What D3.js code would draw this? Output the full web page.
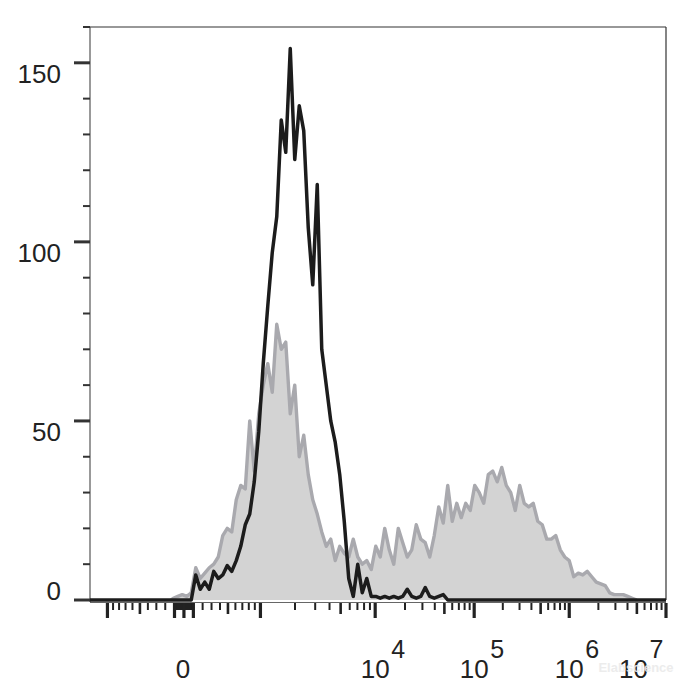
<!DOCTYPE html>
<html><head><meta charset="utf-8">
<script src="https://cdn.jsdelivr.net/npm/d3@7"></script>
<style>body{margin:0;background:#fff}svg{display:block}</style>
</head><body><svg id="c" width="700" height="700"></svg>
<script>
// ---- data ----
const binWidth = 8;          // channels per histogram bin (1024 display channels)
const channelCount = 1024;
const grayStartBin = 18;     // isotype / unstained control (filled grey)
const grayCounts = [0.5,1,1.5,1,2, 9,6,7.5,9,10, 12,18,20,19,28, 32,31,50,36,52,
  60,66,58,77,70, 72,52,60,40,46, 35,28,24,19,15, 17,11,15,13,12,
  17,12,10,11,8.5, 15,12,20,14,10, 20,16,12,14,21, 17,16,12,18,26,
  21.5,32,22,27,23, 27,25,32,30,27, 35,36,33,37,32, 30,25,32,27,26,
  27,22,21,17,17, 18,14,12,11,6.5, 7.5,7,8,6.5,5, 4.5,4,2,1.5,1.5,
  1.5,1,0.5,0];
const blackStartBin = 23;    // stained sample (black line)
const blackCounts = [7,3,5,3,8, 6,7,9.6,8,11, 15,21,24,33,47, 66,82,97,107,134,
  125,154,123,138,131, 104,88,116,70,60, 50,44,35,22,6, 1,10,2,6,1,
  1,0.5,1,0.5,1, 0.5,1,3,1,0.5, 1,3.5,1,0.5,1, 1.5,0];

const yMajorTicks = [0, 50, 100, 150];
const yMinorTicks = [10,20,30,40,60,70,80,90,110,120,130,140,160];
const xMajorTicks = [-1000, -100, 0, 100, 1000, 1e4, 1e5, 1e6, 1e7];
const xMediumTicks = [-500, 500, 5e3, 5e4, 5e5, 5e6];
const xLinearMinorSteps = [10,20,30,40,50,60,70,80,90,200,300,400,600,700,800,900];
const xLogMinorDecades = [1e3, 1e4, 1e5, 1e6];
const xLogMinorMultipliers = [2,3,4,6,7,8,9];
const xLabelValues = [0, 1e4, 1e5, 1e6, 1e7];
const xLabelBases = ["0", "10", "10", "10", "10"];
const xLabelExponents = ["", "4", "5", "6", "7"];
const watermark = "Elabscience";

// ---- layout ----
const L = 90, R = 666, T = 27, B = 600;
const svg = d3.select("#c");
svg.append("rect").attr("width",700).attr("height",700).attr("fill","#fff");

const x = d3.scaleLinear().domain([0, channelCount]).range([L, R]);
const y = d3.scaleLinear().domain([0, 160]).range([B, T]);

// biexponential display transform (value -> display units -> channel)
const linC = 700;
function tOf(v){
  const a = Math.abs(v), s = Math.sign(v);
  if (a <= 1000) return s * Math.asinh(a/linC) / Math.asinh(1000/linC);
  return s * (1 + Math.log10(a/1000));
}
const chOf = d3.scaleLinear().domain([-1,0,1,2,3,4,5]).range([31,167,303,507,683,852,1024]);
const xv = v => x(chOf(tOf(v)));

// ---- histograms ----
function series(start, counts){
  const n = channelCount / binWidth;
  const pts = [{c:0, n:0}];
  for (let i = 0; i < n; i++){
    const k = i - start;
    pts.push({c:(i+0.5)*binWidth, n:(k>=0 && k<counts.length) ? counts[k] : 0});
  }
  pts.push({c:channelCount, n:0});
  return pts;
}
const gray = grayCounts.map((n,k)=>({c:(grayStartBin+k+0.5)*binWidth, n}));
const grayPts = [{c:(grayStartBin)*binWidth, n:0}, ...gray];
svg.append("path").datum(grayPts)
  .attr("d", d3.area().x(d=>x(d.c)).y0(y(0)).y1(d=>y(d.n)))
  .attr("fill","#d3d3d3");
svg.append("path").datum(grayPts)
  .attr("d", d3.line().x(d=>x(d.c)).y(d=>y(d.n)))
  .attr("fill","none").attr("stroke","#a9a9ae").attr("stroke-width",3.4)
  .attr("stroke-linejoin","round");

// ---- frame ----
svg.append("line").attr("x1",L).attr("x2",R).attr("y1",T).attr("y2",T).attr("stroke","#333").attr("stroke-width",1.2);
svg.append("line").attr("x1",R).attr("x2",R).attr("y1",T).attr("y2",B).attr("stroke","#333").attr("stroke-width",1.2);
svg.append("line").attr("x1",L).attr("x2",L).attr("y1",T).attr("y2",B+2).attr("stroke","#555").attr("stroke-width",1.2);
svg.append("line").attr("x1",L).attr("x2",R).attr("y1",B+2.5).attr("y2",B+2.5).attr("stroke","#666").attr("stroke-width",1);

// black histogram line
svg.append("path").datum(series(blackStartBin, blackCounts))
  .attr("d", d3.line().x(d=>x(d.c)).y(d=>y(d.n)))
  .attr("fill","none").attr("stroke","#1c1c1c").attr("stroke-width",3.5)
  .attr("stroke-linejoin","round");

// ---- y axis ticks ----
const font = "Liberation Sans, Arial, sans-serif";
const ty = svg.append("g");
ty.selectAll(".ymin").data(yMinorTicks).join("line")
  .attr("x1",L-7).attr("x2",L).attr("y1",d=>y(d)).attr("y2",d=>y(d))
  .attr("stroke","#333").attr("stroke-width",2);
ty.selectAll(".ymaj").data(yMajorTicks).join("line")
  .attr("x1",L-16).attr("x2",L).attr("y1",d=>y(d)).attr("y2",d=>y(d))
  .attr("stroke","#333").attr("stroke-width",3);
ty.selectAll("text").data(yMajorTicks).join("text")
  .attr("x",61).attr("y",d=>y(d) + (d===0 ? 0 : 20))
  .attr("text-anchor","end")
  .attr("font-family",font).attr("font-size",26)
  .attr("fill","#222").text(d=>d);

// ---- x axis ticks ----
const minorVals = [];
xLinearMinorSteps.forEach(s=>{ minorVals.push(-s, s); });
xLogMinorDecades.forEach(d=>xLogMinorMultipliers.forEach(m=>minorVals.push(m*d)));
const tx = svg.append("g");
const y0t = B + 3;
tx.selectAll(".xmin").data(minorVals).join("line")
  .attr("x1",d=>xv(d)).attr("x2",d=>xv(d)).attr("y1",y0t).attr("y2",y0t+7)
  .attr("stroke","#222").attr("stroke-width",2);
tx.selectAll(".xmed").data(xMediumTicks).join("line")
  .attr("x1",d=>xv(d)).attr("x2",d=>xv(d)).attr("y1",y0t).attr("y2",y0t+11)
  .attr("stroke","#222").attr("stroke-width",2.6);
tx.selectAll(".xmaj").data(xMajorTicks).join("line")
  .attr("x1",d=>xv(d)).attr("x2",d=>xv(d)).attr("y1",y0t).attr("y2",y0t+15)
  .attr("stroke","#222").attr("stroke-width",3.2);

// ---- x labels ----
xLabelValues.forEach((v,i)=>{
  let cx = xv(v);
  const exp = xLabelExponents[i];
  const baseW = 29, expW = 14;
  if (exp){
    const overflow = cx + baseW/2 + 2 + expW - (R - 2);
    if (overflow > 0) cx -= overflow;
  } else { cx -= 1; }
  svg.append("text").attr("x",cx).attr("y",678).attr("text-anchor","middle")
    .attr("font-family",font).attr("font-size",26).attr("fill","#222").text(xLabelBases[i]);
  if (exp){
    svg.append("text").attr("x",cx + baseW/2 + 1.5).attr("y",658).attr("text-anchor","start")
      .attr("font-family",font).attr("font-size",25).attr("fill","#222").text(exp);
  }
});

// watermark (faint, as in the reference)
svg.append("text").attr("x",636).attr("y",672).attr("text-anchor","middle")
  .attr("font-family",font).attr("font-size",13).attr("font-weight","bold")
  .attr("fill","#ebebeb").attr("opacity",0.9).text(watermark);
</script></body></html>
